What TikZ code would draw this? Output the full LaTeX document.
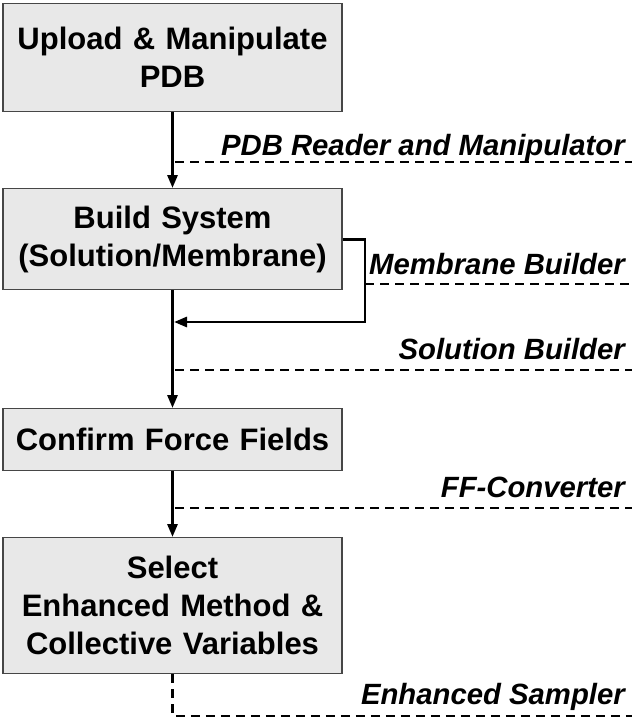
\documentclass[tikz,border=0pt]{standalone}
\usepackage{fontspec}
\setmainfont{Liberation Sans}
\usetikzlibrary{arrows.meta}
\definecolor{boxfill}{RGB}{232,232,232}
\definecolor{boxline}{RGB}{70,70,70}
\begin{document}
\begin{tikzpicture}[x=1pt,y=-1pt,
 box/.style={draw=boxline, fill=boxfill, line width=1.3pt, inner sep=0pt, align=center,
   font=\fontsize{31}{38}\selectfont\bfseries, minimum width=339pt, text width=330pt},
 lbl/.style={anchor=base east, inner sep=0pt, font=\fontsize{29.3}{34}\selectfont\bfseries\itshape},
 flow/.style={line width=2.8pt, -{Triangle[length=13pt,width=10pt]}},
 guide/.style={line width=2.3pt, dash pattern=on 9pt off 6pt}]
\useasboundingbox (0,0) rectangle (632,725);
% boxes
\node[box, minimum height=108pt, anchor=north] (upload) at (172.5,3) {Upload \& Manipulate\\PDB};
\node[box, minimum height=101pt, anchor=north] (build) at (172.5,188) {Build System\\(Solution/Membrane)};
\node[box, minimum height=62pt, anchor=north] (confirm) at (172.5,408) {Confirm Force Fields};
\node[box, minimum height=136pt, anchor=north] (select) at (172.5,537) {Select\\Enhanced Method \&\\Collective Variables};
% main flow
\draw[flow] (upload.south) -- (build.north);
\draw[flow] (build.south) -- (confirm.north);
\draw[flow] (confirm.south) -- (select.north);
% membrane bracket
\coordinate (bkc) at (365,322);
\coordinate (bkend) at (174,322);
\draw[flow] (build.east) -| (bkc) -- (bkend);
% guides and labels
\coordinate (g1s) at (175,162); \coordinate (g1e) at (632,162);
\draw[guide] (g1s) -- (g1e);
\node[lbl] (l1) at (625,155) {PDB Reader and Manipulator};
\coordinate (g2s) at (365,284); \coordinate (g2e) at (632,284);
\draw[guide] (g2s) -- (g2e);
\node[lbl] (l2) at (625,274) {Membrane Builder};
\coordinate (g3s) at (175,370); \coordinate (g3e) at (632,370);
\draw[guide] (g3s) -- (g3e);
\node[lbl] (l3) at (625,359) {Solution Builder};
\coordinate (g4s) at (175,508); \coordinate (g4e) at (632,508);
\draw[guide] (g4s) -- (g4e);
\node[lbl] (l4) at (625,497) {FF-Converter};
\coordinate (g5m) at (172.5,716); \coordinate (g5e) at (632,716);
\draw[guide] (select.south) -- (g5m) -- (g5e);
\node[lbl] (l5) at (625,704) {Enhanced Sampler};
\end{tikzpicture}
\end{document}
